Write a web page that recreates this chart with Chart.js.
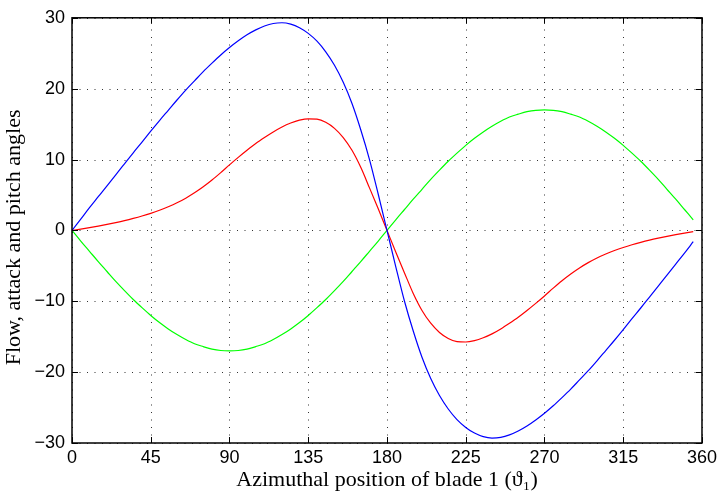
<!DOCTYPE html>
<html>
<head>
<meta charset="utf-8">
<script src="https://cdn.jsdelivr.net/npm/chart.js@4"></script>
<style>
  html, body { margin: 0; padding: 0; background: #fff; }
  #wrap { width: 721px; height: 493px; }
</style>
</head>
<body>
<div id="wrap"><canvas id="myChart" width="721" height="493"></canvas></div>
<script>
// azimuth (deg), sampled every 5 deg
const azimuth = [0,5,10,15,20,25,30,35,40,45,50,55,60,65,70,75,80,85,90,95,100,105,110,115,120,125,130,135,140,145,150,155,160,165,170,175,
  180,185,190,195,200,205,210,215,220,225,230,235,240,245,250,255,260,265,270,275,280,285,290,295,300,305,310,315,320,325,330,335,340,345,350,355];

// blue curve
const flowAngle = [0,1.6,3.2,4.75,6.3,7.85,9.4,10.95,12.45,14.0,15.5,16.95,18.4,19.8,21.1,22.4,23.6,24.75,25.8,26.75,27.6,28.3,28.85,29.2,29.3,29.1,28.6,27.8,26.7,25.2,23.3,20.9,17.9,14.2,10.0,5.1,
  0,-5.1,-10.0,-14.2,-17.9,-20.9,-23.3,-25.2,-26.7,-27.8,-28.6,-29.1,-29.3,-29.2,-28.85,-28.3,-27.6,-26.75,-25.8,-24.75,-23.6,-22.4,-21.1,-19.8,-18.4,-16.95,-15.5,-14.0,-12.45,-10.95,-9.4,-7.85,-6.3,-4.75,-3.2,-1.6];

// red curve
const attackAngle = [0,0.18,0.38,0.6,0.84,1.1,1.38,1.69,2.03,2.41,2.84,3.33,3.89,4.55,5.3,6.15,7.1,8.15,9.25,10.3,11.3,12.25,13.1,13.9,14.6,15.15,15.55,15.75,15.7,15.25,14.4,13.1,11.3,8.9,6.0,3.05,
  0,-3.05,-6.0,-8.9,-11.3,-13.1,-14.4,-15.25,-15.7,-15.75,-15.55,-15.15,-14.6,-13.9,-13.1,-12.25,-11.3,-10.3,-9.25,-8.15,-7.1,-6.15,-5.3,-4.55,-3.89,-3.33,-2.84,-2.41,-2.03,-1.69,-1.38,-1.1,-0.84,-0.6,-0.38,-0.18];

// green curve
const pitchAngle = [0,-1.5,-2.95,-4.4,-5.8,-7.2,-8.5,-9.75,-10.9,-12.0,-13.0,-13.9,-14.7,-15.4,-16.0,-16.4,-16.75,-16.95,-17.0,-16.95,-16.75,-16.4,-16.0,-15.4,-14.7,-13.9,-13.0,-12.0,-10.9,-9.75,-8.5,-7.2,-5.8,-4.4,-2.95,-1.5,
  0,1.5,2.95,4.4,5.8,7.2,8.5,9.75,10.9,12.0,13.0,13.9,14.7,15.4,16.0,16.4,16.75,16.95,17.0,16.95,16.75,16.4,16.0,15.4,14.7,13.9,13.0,12.0,10.9,9.75,8.5,7.2,5.8,4.4,2.95,1.5];

const xTicks = [0,45,90,135,180,225,270,315,360];
const yTicks = [-30,-20,-10,0,10,20,30];
const yTitle = 'Flow, attack and pitch angles';

var toPoints = function(ys) {
    return azimuth.map((x, i) => ({x: x, y: ys[i]}));
}

// dotted grid, box and inward tick marks like the matlab figure
const matlabFrame = {
    id: 'matlabFrame',
    beforeDatasetsDraw(chart) {
        const ctx = chart.ctx, a = chart.chartArea;
        const sx = chart.scales.x, sy = chart.scales.y;
        ctx.save();
        ctx.strokeStyle = '#333';
        ctx.lineWidth = 1;
        ctx.setLineDash([1, 6.5]);
        xTicks.forEach(v => {
            const px = Math.round(sx.getPixelForValue(v)) + 0.5;
            ctx.beginPath(); ctx.moveTo(px, a.bottom); ctx.lineTo(px, a.top); ctx.stroke();
        });
        yTicks.forEach(v => {
            const py = Math.round(sy.getPixelForValue(v)) + 0.5;
            ctx.beginPath(); ctx.moveTo(a.left, py); ctx.lineTo(a.right, py); ctx.stroke();
        });
        ctx.restore();
    },
    afterDraw(chart) {
        const ctx = chart.ctx, a = chart.chartArea;
        const sx = chart.scales.x, sy = chart.scales.y;
        const len = 6;
        ctx.save();
        ctx.strokeStyle = '#000';
        ctx.lineWidth = 1.5;
        ctx.strokeRect(a.left, a.top, a.right - a.left, a.bottom - a.top);
        ctx.lineWidth = 1;
        ctx.beginPath();
        xTicks.forEach(v => {
            const px = Math.round(sx.getPixelForValue(v)) + 0.5;
            ctx.moveTo(px, a.bottom); ctx.lineTo(px, a.bottom - len);
            ctx.moveTo(px, a.top); ctx.lineTo(px, a.top + len);
        });
        yTicks.forEach(v => {
            const py = Math.round(sy.getPixelForValue(v)) + 0.5;
            ctx.moveTo(a.left, py); ctx.lineTo(a.left + len, py);
            ctx.moveTo(a.right, py); ctx.lineTo(a.right - len, py);
        });
        ctx.stroke();
        // y title, sits a bit lower than the axis centre in the original
        ctx.translate(20, (a.top + a.bottom) / 2 + 7);
        ctx.rotate(-Math.PI / 2);
        ctx.fillStyle = '#000';
        ctx.font = '22px "Liberation Serif"';
        ctx.textAlign = 'center';
        ctx.textBaseline = 'alphabetic';
        ctx.fillText(yTitle, 0, 0);
        ctx.restore();
    }
};

var makeSet = function(ys, color) {
    return {
        data: toPoints(ys),
        borderColor: color,
        borderWidth: 1.2,
        pointRadius: 0,
        cubicInterpolationMode: 'monotone',
        fill: false
    };
}

var ctx = document.getElementById('myChart');
var myChart = new Chart(ctx, {
    type: 'line',
    data: {
        datasets: [
            makeSet(flowAngle, '#0000ff'),
            makeSet(attackAngle, '#ff0000'),
            makeSet(pitchAngle, '#00ff00')
        ]
    },
    options: {
        responsive: false,
        animation: false,
        layout: { padding: { left: 0, right: 14, top: 17, bottom: 0 } },
        plugins: {
            legend: { display: false },
            tooltip: { enabled: false }
        },
        scales: {
            x: {
                type: 'linear',
                min: 0,
                max: 360,
                afterBuildTicks: s => { s.ticks = xTicks.map(v => ({value: v})); },
                afterFit: s => { s.height = 50; },
                grid: { display: false, drawTicks: false },
                border: { display: false },
                ticks: {
                    color: '#000',
                    padding: 4,
                    maxRotation: 0,
                    font: { family: 'Liberation Sans', size: 18 }
                },
                title: {
                    display: true,
                    text: 'Azimuthal position of blade 1 (ϑ₁)',
                    color: '#000',
                    padding: { top: 0, bottom: 0 },
                    font: { family: 'Liberation Serif', size: 22 }
                }
            },
            y: {
                min: -30,
                max: 30,
                afterBuildTicks: s => { s.ticks = yTicks.map(v => ({value: v})); },
                afterFit: s => { s.width = 72; },
                grid: { display: false, drawTicks: false },
                border: { display: false },
                ticks: {
                    color: '#000',
                    padding: 7,
                    font: { family: 'Liberation Sans', size: 18 },
                    callback: v => (v < 0 ? '\u2212' + Math.abs(v) : '' + v)
                }
            }
        }
    },
    plugins: [matlabFrame]
});
</script>
</body>
</html>
